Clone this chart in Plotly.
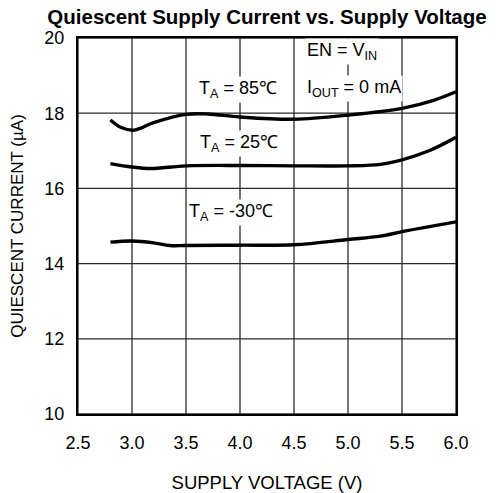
import plotly.graph_objects as go

v_85 = [2.8, 2.9, 3.02, 3.2, 3.5, 3.7, 4.0, 4.5, 5.0, 5.5, 5.8, 6.0]
i_85 = [17.82, 17.62, 17.55, 17.75, 17.97, 17.98, 17.9, 17.84, 17.95, 18.13, 18.35, 18.57]

v_25 = [2.8, 3.0, 3.17, 3.5, 4.0, 4.5, 5.0, 5.3, 5.5, 5.75, 6.0]
i_25 = [16.66, 16.57, 16.53, 16.6, 16.61, 16.6, 16.6, 16.64, 16.76, 17.0, 17.36]

v_m30 = [2.8, 3.0, 3.2, 3.35, 3.5, 4.0, 4.5, 5.0, 5.3, 5.5, 6.0]
i_m30 = [14.57, 14.6, 14.55, 14.48, 14.48, 14.49, 14.5, 14.64, 14.73, 14.85, 15.11]

x_ticks = [2.5, 3.0, 3.5, 4.0, 4.5, 5.0, 5.5, 6.0]
x_tick_labels = ["2.5", "3.0", "3.5", "4.0", "4.5", "5.0", "5.5", "6.0"]
y_ticks = [10, 12, 14, 16, 18, 20]

FONT = "Liberation Sans, Arial, sans-serif"
GRID = "#2a2a2a"

fig = go.Figure()

# grid lines derived from the tick arrays (drawn beneath the data)
for xv in x_ticks:
    fig.add_shape(type="line", xref="x", yref="paper", x0=xv, x1=xv, y0=0, y1=1,
                  line=dict(color=GRID, width=1.3), layer="below")
for yv in y_ticks:
    fig.add_shape(type="line", xref="paper", yref="y", x0=0, x1=1, y0=yv, y1=yv,
                  line=dict(color=GRID, width=1.3), layer="below")

for xs, ys in [(v_85, i_85), (v_25, i_25), (v_m30, i_m30)]:
    fig.add_trace(go.Scatter(x=xs, y=ys, mode="lines",
                             line=dict(color="black", width=3.4, shape="spline", smoothing=1.0),
                             showlegend=False, hoverinfo="skip"))

ann_font = dict(family=FONT, size=18, color="black")
labels = [
    (3.98, 18.62, "T<sub>A</sub> = 85\u2103", "center"),
    (3.99, 17.2, "T<sub>A</sub> = 25\u2103", "center"),
    (3.92, 15.35, "T<sub>A</sub> = -30\u2103", "center"),
    (4.6, 19.63, "EN = V<sub>IN</sub>", "left"),
    (4.6, 18.67, "I<sub>OUT</sub> = 0 mA", "left"),
]
for x, y, t, anc in labels:
    fig.add_annotation(x=x, y=y, text=t, showarrow=False, xanchor=anc,
                       font=ann_font, bgcolor="white", borderpad=1)

fig.update_layout(
    template="none",
    width=490, height=485,
    margin=dict(l=70, r=42, t=30, b=79, autoexpand=False),
    paper_bgcolor="white", plot_bgcolor="white",
    font=dict(family=FONT, color="black"),
    title=dict(text="<b>Quiescent Supply Current vs. Supply Voltage</b>",
               x=0.5, xanchor="center", xref="paper", y=0.982, yref="container",
               yanchor="middle",
               font=dict(family=FONT, size=20.5, color="black")),
    xaxis=dict(range=[2.5, 6.0], tickmode="array", tickvals=x_ticks, ticktext=x_tick_labels,
               showgrid=False,
               showline=True, linecolor="black", linewidth=2, mirror=True,
               ticks="outside", ticklen=11, tickcolor="rgba(0,0,0,0)", tickwidth=1,
               tickfont=dict(size=18, family=FONT), automargin=False,
               zeroline=False,
               title=dict(text="SUPPLY VOLTAGE (V)", font=dict(size=18.5, family=FONT), standoff=24)),
    yaxis=dict(range=[10, 20], tickmode="array", tickvals=y_ticks,
               showgrid=False,
               showline=True, linecolor="black", linewidth=2, mirror=True,
               ticks="outside", ticklen=8, tickcolor="rgba(0,0,0,0)", tickwidth=1,
               tickfont=dict(size=18, family=FONT), automargin=False,
               zeroline=False,
               title=dict(text="QUIESCENT CURRENT (\u00b5A)", font=dict(size=17, family=FONT), standoff=16)),
)

fig.write_html("out.html")
